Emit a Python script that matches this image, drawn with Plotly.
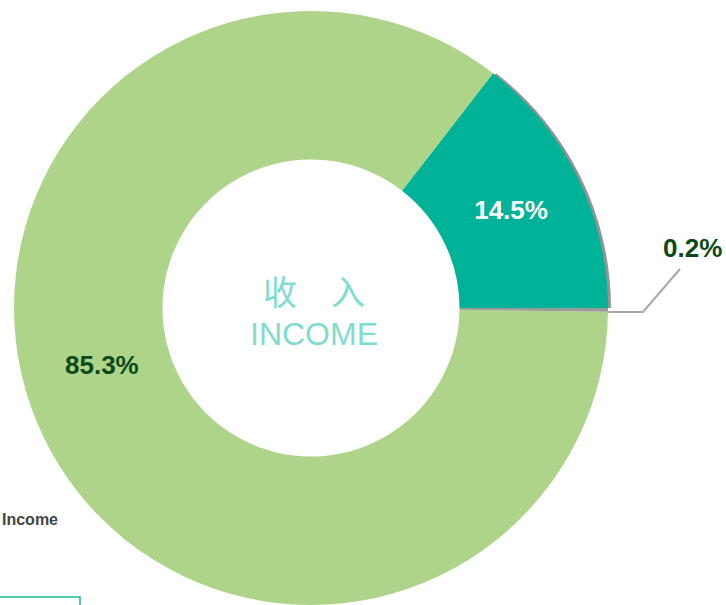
import plotly.graph_objects as go

# ---- data ----
categories = ["Income A", "Income B", "Income C"]
values = [14.5, 85.3, 0.2]
colors = ["#00B398", "#AED48A", "#9A9A9A"]
center_cn = "收　入"
center_en = "INCOME"
legend_text = "Income"

W, H = 726, 605

def px(x):
    return x / W

def py(y):
    return 1 - y / H

# pie geometry (pixels)
CX, R = 311, 297
dom_x = [px(CX - R), px(CX + R)]
dom_y = [0, (2 * R) / H]
CY = H - R  # centre y from top

total = sum(values)
pct = [v / total for v in values]
# first slice begins at 3 o'clock and grows counter-clockwise
rot = 90 - 360 * pct[0]

fig = go.Figure()

# soft shadow of the highlighted slice
fig.add_trace(go.Pie(
    labels=categories, values=values, sort=False, direction="counterclockwise",
    rotation=rot, hole=0.5,
    marker=dict(colors=["rgba(60,60,60,0.55)", "rgba(0,0,0,0)", "rgba(0,0,0,0)"]),
    textinfo="none", hoverinfo="skip", showlegend=False,
    domain=dict(x=[dom_x[0] + 3 / W, dom_x[1] + 3 / W], y=dom_y),
))

fig.add_trace(go.Pie(
    labels=categories, values=values, sort=False, direction="counterclockwise",
    rotation=rot, hole=0.5,
    marker=dict(colors=colors, line=dict(width=0)),
    texttemplate=["%{percent:.1%}", "", ""],
    textposition="inside", insidetextorientation="horizontal",
    textfont=dict(family="Liberation Sans", size=26, color="white", weight="bold"),
    showlegend=False,
    domain=dict(x=dom_x, y=dom_y),
))

label_font = dict(family="Liberation Sans", size=26, color="#0B4A17", weight="bold")

annotations = [
    dict(x=px(102), y=py(365), xref="paper", yref="paper",
         text=f"{pct[1]*100:.1f}%", showarrow=False, font=label_font,
         xanchor="center", yanchor="middle"),
    dict(x=px(724), y=py(248), xref="paper", yref="paper",
         text=f"{pct[2]*100:.1f}%", showarrow=False, font=label_font,
         xanchor="right", yanchor="middle"),
    dict(x=px(314), y=py(290.5), xref="paper", yref="paper",
         text=center_cn, showarrow=False,
         font=dict(family="Noto Sans CJK SC", size=34, color="#80DCCE"),
         xanchor="center", yanchor="middle"),
    dict(x=px(314), y=py(334), xref="paper", yref="paper",
         text=center_en, showarrow=False,
         font=dict(family="Liberation Sans", size=32, color="#80DCCE"),
         xanchor="center", yanchor="middle"),
    dict(x=px(0), y=py(519), xref="paper", yref="paper",
         text=legend_text, showarrow=False,
         font=dict(family="Liberation Sans", size=16, color="#444444", weight="bold"),
         xanchor="left", yanchor="middle"),
]

lead_y = CY + 4
shapes = [
    dict(type="path", xref="paper", yref="paper",
         path=f"M {px(CX + R)} {py(lead_y)} L {px(CX + R + 35)} {py(lead_y)} L {px(CX + R + 72)} {py(lead_y - 43)}",
         line=dict(color="#A8A8A8", width=2)),
    dict(type="rect", xref="paper", yref="paper",
         x0=px(-10), x1=px(80), y0=py(597), y1=py(640),
         line=dict(color="#1DB89C", width=1.5), fillcolor="rgba(0,0,0,0)"),
]

fig.update_layout(
    width=W, height=H,
    margin=dict(l=0, r=0, t=0, b=0),
    paper_bgcolor="white", plot_bgcolor="white",
    annotations=annotations, shapes=shapes,
)

fig.write_html(
    "out.html",
    config={"displayModeBar": False},
    post_script="document.body.style.margin='0';document.body.style.overflow='hidden';",
)
